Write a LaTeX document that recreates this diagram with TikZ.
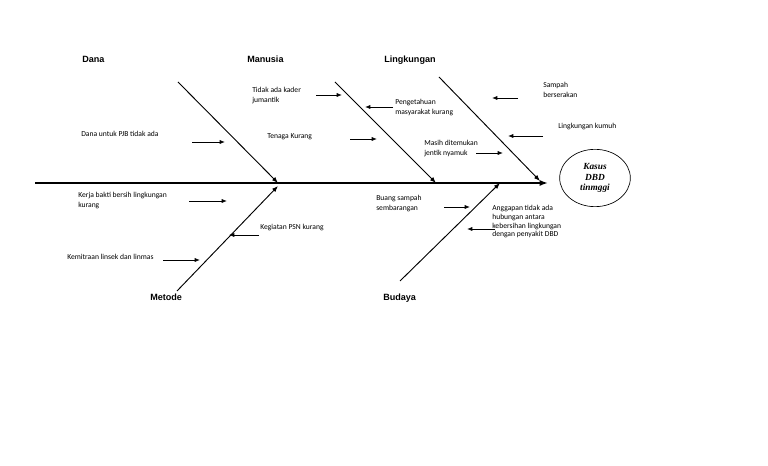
\documentclass[tikz,border=0pt]{standalone}
\usepackage{fontspec}
\setmainfont{Carlito}
\newfontfamily\headfont{Liberation Sans}
\newfontfamily\effectfont{Liberation Serif}
\usetikzlibrary{arrows.meta,positioning,shapes.geometric}

\begin{document}
\begin{tikzpicture}[x=0.75pt,y=-0.75pt,
  spine/.style={line width=1.4pt, -{Latex[length=2.2mm,width=1.6mm]}},
  bone/.style={line width=0.7pt, -{Latex[length=1.6mm,width=1.2mm]}},
  cause/.style={line width=0.6pt, -{Latex[length=1.4mm,width=1.1mm]}},
  head/.style={font=\headfont\bfseries\fontsize{6.8}{8}\selectfont, anchor=base west, inner sep=0},
  note/.style={font=\fontsize{5.7}{7.6}\selectfont, align=left, anchor=north west, inner sep=0},
  effect/.style={ellipse, draw, line width=0.5pt, minimum width=53pt, minimum height=43pt, inner sep=0, align=center, font=\effectfont\bfseries\itshape\fontsize{7}{8}\selectfont}
]
\useasboundingbox (0,0) rectangle (768,466);

% head and spine
\node[effect] (kasus) at (595,178) {Kasus\\DBD\\tinmggi};
\coordinate (sp0) at (35,183);
\coordinate (sp1) at (548,183);
\draw[spine] (sp0) -- (sp1);

% category names
\node[head] (dana) at (82,63) {Dana};
\node[head] (manusia) at (247,63) {Manusia};
\node[head] (lingk) at (384,63) {Lingkungan};
\node[head] (metode) at (150,301) {Metode};
\node[head] (budaya) at (383,301) {Budaya};

% bones
\coordinate (d0) at (178,82);   \coordinate (d1) at (278,183);
\coordinate (m0) at (335,82);   \coordinate (m1) at (436,183);
\coordinate (l0) at (439,77);   \coordinate (l1) at (540,181);
\coordinate (t0) at (177,291);  \coordinate (t1) at (278,186);
\coordinate (b0) at (400,281);  \coordinate (b1) at (500,183);
\draw[bone] (d0) -- (d1);
\draw[bone] (m0) -- (m1);
\draw[bone] (l0) -- (l1);
\draw[bone] (t0) -- (t1);
\draw[bone] (b0) -- (b1);

% causes
\node[note] (kader) at (252,87) {Tidak ada kader\\jumantik};
\node[note] (tahu) at (395,99) {Pengetahuan\\masyarakat kurang};
\node[note] (pjb) at (81,131) {Dana untuk PJB tidak ada};
\node[note] (tenaga) at (267,133) {Tenaga Kurang};
\node[note] (sampah) at (543,82) {Sampah\\berserakan};
\node[note] (kumuh) at (558,123) {Lingkungan kumuh};
\node[note] (jentik) at (424,140) {Masih ditemukan\\jentik nyamuk};
\node[note] (kerja) at (78,192) {Kerja bakti bersih lingkungan\\kurang};
\node[note] (psn) at (260,224) {Kegiatan PSN kurang};
\node[note] (mitra) at (67,254) {Kemitraan linsek dan linmas};
\node[note] (buang) at (376,195) {Buang sampah\\sembarangan};
\node[note, font=\fontsize{5.7}{6.6}\selectfont] (anggap) at (492,205) {Anggapan tidak ada\\hubungan antara\\kebersihan lingkungan\\dengan penyakit DBD};

\coordinate (kader-a) at (316,95);   \coordinate (kader-b) at (342,95);
\coordinate (tahu-a) at (393,107);   \coordinate (tahu-b) at (365,107);
\coordinate (pjb-a) at (192,142);    \coordinate (pjb-b) at (225,142);
\coordinate (tenaga-a) at (350,139); \coordinate (tenaga-b) at (377,139);
\coordinate (sampah-a) at (518,98);  \coordinate (sampah-b) at (492,98);
\coordinate (kumuh-a) at (543,136);  \coordinate (kumuh-b) at (508,136);
\coordinate (jentik-a) at (476,153); \coordinate (jentik-b) at (503,153);
\coordinate (kerja-a) at (189,201);  \coordinate (kerja-b) at (227,201);
\coordinate (psn-a) at (259,235);    \coordinate (psn-b) at (229,235);
\coordinate (mitra-a) at (163,260);  \coordinate (mitra-b) at (200,260);
\coordinate (buang-a) at (444,207);  \coordinate (buang-b) at (470,207);
\coordinate (anggap-a) at (495,229); \coordinate (anggap-b) at (467,229);
\draw[cause] (kader-a) -- (kader-b);
\draw[cause] (tahu-a) -- (tahu-b);
\draw[cause] (pjb-a) -- (pjb-b);
\draw[cause] (tenaga-a) -- (tenaga-b);
\draw[cause] (sampah-a) -- (sampah-b);
\draw[cause] (kumuh-a) -- (kumuh-b);
\draw[cause] (jentik-a) -- (jentik-b);
\draw[cause] (kerja-a) -- (kerja-b);
\draw[cause] (psn-a) -- (psn-b);
\draw[cause] (mitra-a) -- (mitra-b);
\draw[cause] (buang-a) -- (buang-b);
\draw[cause] (anggap-a) -- (anggap-b);
\end{tikzpicture}
\end{document}
